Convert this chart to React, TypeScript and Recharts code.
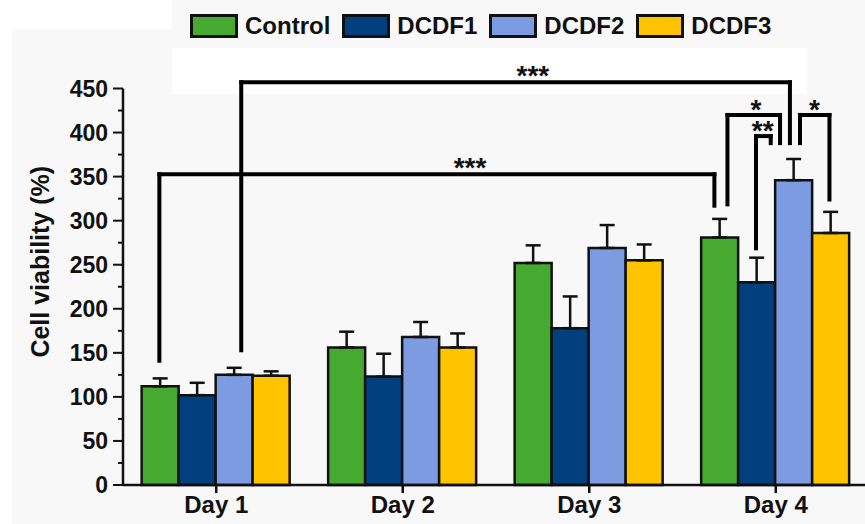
import { ComposedChart, Bar, ErrorBar, XAxis, YAxis, ReferenceLine, ReferenceDot, Label } from "recharts";

const days = ["Day 1", "Day 2", "Day 3", "Day 4"];
const control = [112, 156, 252, 281];
const controlErr = [9, 18, 20, 21];
const dcdf1 = [102, 123, 178, 230];
const dcdf1Err = [14, 26, 36, 28];
const dcdf2 = [125, 168, 269, 346];
const dcdf2Err = [8, 17, 26, 24];
const dcdf3 = [124, 156, 255, 286];
const dcdf3Err = [5, 16, 18, 24];

const yTicks = [0, 25, 50, 75, 100, 125, 150, 175, 200, 225, 250, 275, 300, 325, 350, 375, 400, 425, 450];

// significance brackets, x in day units (0..4), y in %
const brackets = [
  { x1: 0.634, x2: 3.576, top: 457, y1: 153, y2: 388 },
  { x1: 0.195, x2: 3.171, top: 352.6, y1: 141, y2: 317 },
  { x1: 3.241, x2: 3.523, top: 420, y1: 318.5, y2: 388 },
  { x1: 3.394, x2: 3.473, top: 396, y1: 268.6, y2: 388 },
  { x1: 3.63, x2: 3.788, top: 420, y1: 388, y2: 324 },
];
const stars = [
  { x: 2.198, y: 470, text: "***" },
  { x: 1.861, y: 365, text: "***" },
  { x: 3.394, y: 431, text: "*" },
  { x: 3.43, y: 407, text: "**" },
  { x: 3.707, y: 431, text: "*" },
];

const series = [
  { key: "control", name: "Control", color: "#46aa30" },
  { key: "dcdf1", name: "DCDF1", color: "#023f7e" },
  { key: "dcdf2", name: "DCDF2", color: "#7d9be0" },
  { key: "dcdf3", name: "DCDF3", color: "#ffc300" },
];

const data = days.map((d, i) => ({
  day: d,
  pos: i + 0.5,
  control: control[i],
  controlErr: [0, controlErr[i]],
  dcdf1: dcdf1[i],
  dcdf1Err: [0, dcdf1Err[i]],
  dcdf2: dcdf2[i],
  dcdf2Err: [0, dcdf2Err[i]],
  dcdf3: dcdf3[i],
  dcdf3Err: [0, dcdf3Err[i]],
}));

const FONT = '"Liberation Sans", Arial, sans-serif';
const INK = "#111";

const YTick = (props: any) => {
  const { x, y, payload } = props;
  const major = payload.value % 50 === 0;
  return (
    <g>
      <line x1={x - (major ? 10 : 5)} x2={x} y1={y} y2={y} stroke={INK} strokeWidth={2} />
      {major && (
        <text x={x - 15} y={y} dy="0.36em" textAnchor="end" fontSize={23} fontWeight="bold" fill={INK} fontFamily={FONT}>
          {payload.value}
        </text>
      )}
    </g>
  );
};

const App = () => {
  return (
    <div style={{ position: "absolute", left: 0, top: 0, width: 865, height: 524, overflow: "hidden", background: "#f8f8f8", fontFamily: FONT }}>
      <div style={{ position: "absolute", left: 0, top: 0, width: 172, height: 29, background: "#fff" }} />
      <div style={{ position: "absolute", left: 0, top: 0, width: 12, height: 524, background: "#fff" }} />
      <div style={{ position: "absolute", left: 172, top: 48, width: 635, height: 46, background: "#fff" }} />
      <div style={{ position: "absolute", left: 190, top: 12, display: "flex", alignItems: "center" }}>
        {series.map((s) => (
          <div key={s.key} style={{ display: "flex", alignItems: "center", marginRight: 12 }}>
            <span style={{ width: 42, height: 18, border: `3px solid ${INK}`, background: s.color, marginRight: 7 }} />
            <span style={{ fontSize: 24, fontWeight: "bold", color: INK }}>{s.name}</span>
          </div>
        ))}
      </div>
      <div style={{ position: "absolute", left: 0, top: 0 }}>
        <ComposedChart width={875} height={524} data={data} margin={{ top: 88.5, right: 6, bottom: 0, left: 0 }} barCategoryGap="10%" barGap={0}>
          <XAxis
            xAxisId="c"
            dataKey="day"
            height={39}
            tickSize={8}
            tickMargin={3}
            axisLine={{ stroke: INK, strokeWidth: 2.5 }}
            tickLine={{ stroke: INK, strokeWidth: 2.5 }}
            tick={{ fontSize: 24, fontWeight: "bold", fill: INK, fontFamily: FONT }}
          />
          <XAxis xAxisId="n" dataKey="pos" type="number" domain={[0, 4]} ticks={[0, 1, 2, 3, 4]} allowDataOverflow hide />
          <YAxis
            width={123}
            domain={[0, 450]}
            ticks={yTicks}
            interval={0}
            tickSize={0}
            tickMargin={0}
            tickLine={false}
            axisLine={{ stroke: INK, strokeWidth: 2.5 }}
            tick={<YTick />}
          >
            <Label
              content={(p: any) => {
                const vb = p.viewBox;
                const cx = vb.x + 40;
                const cy = vb.y + vb.height / 2 - 25;
                return (
                  <text x={cx} y={cy} transform={`rotate(-90 ${cx} ${cy})`} textAnchor="middle" dy="0.36em" fontSize={25} fontWeight="bold" fill={INK} fontFamily={FONT}>
                    Cell viability (%)
                  </text>
                );
              }}
            />
          </YAxis>
          {series.map((s) => (
            <Bar key={s.key} xAxisId="c" dataKey={s.key} name={s.name} fill={s.color} stroke={INK} strokeWidth={2.5} isAnimationActive={false}>
              <ErrorBar dataKey={`${s.key}Err`} direction="y" width={7.5} stroke={INK} strokeWidth={2.5} isAnimationActive={false} />
            </Bar>
          ))}
          {brackets.map((b, i) => [
            <ReferenceLine key={`l${i}`} xAxisId="n" ifOverflow="visible" stroke="#000" strokeWidth={4} strokeLinecap="square" segment={[{ x: b.x1, y: b.y1 }, { x: b.x1, y: b.top }]} />,
            <ReferenceLine key={`t${i}`} xAxisId="n" ifOverflow="visible" stroke="#000" strokeWidth={4} strokeLinecap="square" segment={[{ x: b.x1, y: b.top }, { x: b.x2, y: b.top }]} />,
            <ReferenceLine key={`r${i}`} xAxisId="n" ifOverflow="visible" stroke="#000" strokeWidth={4} strokeLinecap="square" segment={[{ x: b.x2, y: b.top }, { x: b.x2, y: b.y2 }]} />,
          ])}
          {stars.map((s, i) => (
            <ReferenceDot
              key={`s${i}`}
              xAxisId="n"
              x={s.x}
              y={s.y}
              ifOverflow="visible"
              shape={(p: any) => (
                <text x={p.cx} y={p.cy} dy="0.5em" textAnchor="middle" fontSize={28} fontWeight="bold" fill={INK} fontFamily={FONT}>
                  {s.text}
                </text>
              )}
            />
          ))}
        </ComposedChart>
      </div>
    </div>
  );
};

export default App;
